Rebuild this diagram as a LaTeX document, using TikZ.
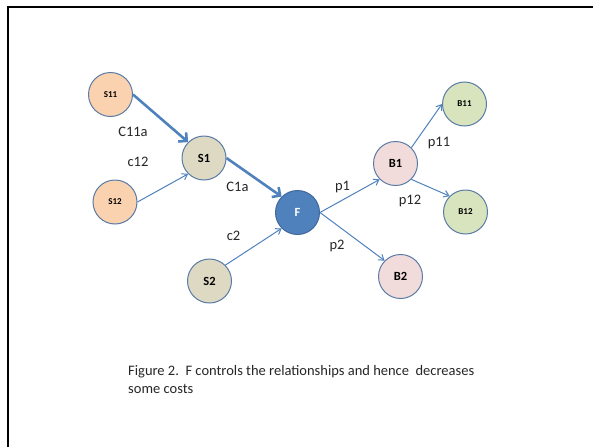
\documentclass[tikz,border=0pt]{standalone}
\usepackage{fontspec}
\setmainfont{Carlito}
\usetikzlibrary{arrows.meta}
\definecolor{edgeblue}{HTML}{4F81BD}
\definecolor{rimblue}{HTML}{5A7BA6}
\definecolor{peach}{HTML}{FAD2B0}
\definecolor{tan}{HTML}{DDD9C3}
\definecolor{rose}{HTML}{F2DCDB}
\definecolor{sage}{HTML}{D7E4BD}
\definecolor{darkblue}{HTML}{40699C}
\begin{document}
\begin{tikzpicture}[x=1pt,y=-1pt,
  party/.style={circle,draw=rimblue,line width=1pt,minimum size=44pt,inner sep=0pt,font=\bfseries},
  small/.style={font=\bfseries\fontsize{9}{10}\selectfont},
  big/.style={font=\bfseries\fontsize{12.5}{14}\selectfont},
  thin/.style={draw=edgeblue,line width=1pt,-{Straight Barb[length=5pt,width=7pt]}},
  thick/.style={draw=edgeblue,line width=2.6pt,-{Straight Barb[length=6pt,width=12pt]}},
  lbl/.style={font=\fontsize{14.5}{16}\selectfont,text=black!85}]
\useasboundingbox (0,0) rectangle (593,447);
% page frame
\draw[line width=2pt] (8,447) -- (8,7) -- (593,7);

% suppliers
\node[party,small,fill=peach] (s11) at (110.5,94.5) {S11};
\node[party,small,fill=peach] (s12) at (115,202) {S12};
\node[party,big,fill=tan] (s1) at (204,158) {S1};
\node[party,big,fill=tan] (s2) at (209.5,281) {S2};
% focal firm
\node[party,big,fill=edgeblue,draw=darkblue,text=white] (f) at (297.5,212.5) {F};
% buyers
\node[party,big,fill=rose] (b1) at (395.5,163.5) {B1};
\node[party,big,fill=rose] (b2) at (400.5,276.5) {B2};
\node[party,small,fill=sage] (b11) at (464.5,104) {B11};
\node[party,small,fill=sage] (b12) at (465.5,212) {B12};

% flows, attached at the circles' connection points
\draw[thick] (s11.east) -- (s1.north west);
\draw[thin] (s12.east) -- (s1.south west);
\draw[thick] (s1.east) -- (f.north west);
\draw[thin] (s2.north east) -- (f.south west);
\draw[thin] (f.east) -- (b1.south west);
\draw[thin] (f.east) -- (b2.north west);
\draw[thin] (b1.north east) -- (b11.west);
\draw[thin] (b1.south east) -- (b12.north west);

% cost and price labels
\node[lbl] (lc11a) at (133,132) {C11a};
\node[lbl] (lc12) at (138,162) {c12};
\node[lbl] (lc1a) at (237.5,187) {C1a};
\node[lbl] (lc2) at (233.5,236) {c2};
\node[lbl] (lp1) at (342.5,187) {p1};
\node[lbl] (lp2) at (337,246) {p2};
\node[lbl] (lp11) at (439,143) {p11};
\node[lbl] (lp12) at (410,201) {p12};

% caption
\node[lbl,anchor=north west,align=left,inner sep=0pt,font=\fontsize{14.5}{18}\selectfont] (cap) at (128,365)
  {Figure 2.\ \ F controls the relationships and hence\ \ decreases\\some costs};
\end{tikzpicture}
\end{document}
